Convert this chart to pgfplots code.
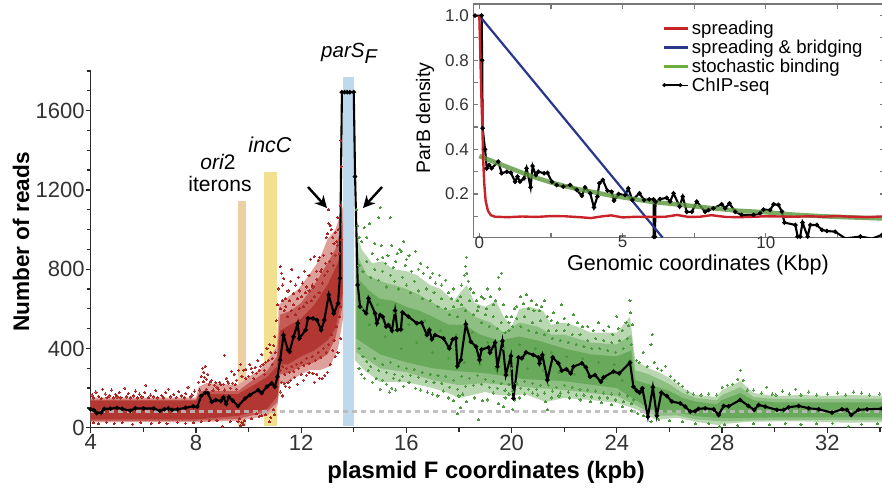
\documentclass[border=0pt]{standalone}
\usepackage{pgfplots}
\pgfplotsset{compat=1.18}
\usetikzlibrary{arrows.meta}
\usepackage{fontspec}
\setmainfont{Liberation Sans}
\definecolor{redA}{HTML}{DDA09A}
\definecolor{redB}{HTML}{C45D57}
\definecolor{redC}{HTML}{B23632}
\definecolor{redP}{HTML}{AC2724}
\definecolor{greA}{HTML}{B9D8B1}
\definecolor{greB}{HTML}{8DBF82}
\definecolor{greC}{HTML}{69A95B}
\definecolor{greP}{HTML}{4C9A3E}
\definecolor{axc}{HTML}{2A2A2A}
\definecolor{insc}{HTML}{777777}
\newcommand{\fs}[1]{\fontsize{#1}{#1}\selectfont}
\begin{document}
\begin{tikzpicture}[x=1pt,y=1pt]
\clip (0,0) rectangle (882,489);
\begin{axis}[
  at={(90.7pt,61.3pt)},anchor=south west,
  scale only axis,width=791.3pt,height=356.7pt,
  xmin=4,xmax=34.08,ymin=0,ymax=1800,
  axis x line*=bottom,axis y line*=left,
  axis line style={-,line width=1.5pt,color=axc},
  xtick={4,8,12,16,20,24,28,32},minor xtick={6,10,14,18,22,26,30,34},
  ytick={0,400,800,1200,1600},minor ytick={100,200,300,500,600,700,900,1000,1100,1300,1400,1500,1700,1800},
  tick style={line width=1.3pt,color=axc},
  major tick length=5pt,minor tick length=4pt,
  tick align=outside,
  /pgf/number format/assume math mode=true,
  /pgf/number format/1000 sep={},
  tick label style={font=\fs{22},color=black!80},
  yticklabel style={xshift=2.5pt},
  xticklabel style={yshift=1.5pt},
  clip=true]
% highlighted regions
\addplot[draw=none,fill={rgb,255:red,237;green,207;blue,163}] coordinates {(9.6,8)(9.6,1145)(9.89,1145)(9.89,8)} --cycle;
\addplot[draw=none,fill={rgb,255:red,243;green,224;blue,142}] coordinates {(10.6,8)(10.6,1288)(11.08,1288)(11.08,8)} --cycle;
\addplot[draw=none,fill={rgb,255:red,190;green,216;blue,236}] coordinates {(13.6,8)(13.6,1771)(14.0,1771)(14.0,8)} --cycle;
% cloud envelopes
\addplot[draw=none,fill=redA] coordinates {(4,152)(8,152)(8.1,205)(8.4,225)(9.6,215)(10,255)(10.5,300)(11.08,410)(11.15,620)(11.5,660)(11.9,700)(12.3,770)(12.7,850)(13,950)(13.3,1000)(13.6,1120)(13.6,560)(13.4,400)(13.1,310)(12.7,290)(12.3,290)(12,270)(11.6,240)(11.2,220)(11.1,110)(10.7,60)(9.6,35)(8,28)(4,28)} --cycle;
\addplot[draw=none,fill=redB] coordinates {(4,142)(8,142)(8.15,185)(9.6,185)(10,225)(10.7,285)(11.08,360)(11.2,570)(11.6,590)(12,630)(12.5,720)(13,830)(13.3,900)(13.58,1040)(13.58,620)(13.3,450)(13,370)(12.5,330)(12,310)(11.5,275)(11.2,270)(11.1,130)(10.7,80)(9.6,45)(8,35)(4,35)} --cycle;
\addplot[draw=none,fill=redC] coordinates {(4,136)(8,136)(8.15,170)(9.6,170)(10,200)(10.7,255)(11.08,310)(11.2,490)(12,550)(12.5,620)(13,720)(13.5,860)(13.58,960)(13.58,680)(13.3,500)(13,440)(12.5,390)(12,360)(11.5,320)(11.2,320)(11.1,160)(10.7,95)(9.6,60)(8,42)(4,42)} --cycle;
\addplot[draw=none,fill=greA] coordinates {(14.05,1000)(14.3,900)(14.7,830)(15.1,840)(15.5,800)(16,790)(16.4,770)(16.9,720)(17.3,700)(17.8,640)(18.1,690)(18.3,720)(18.6,630)(19,610)(19.4,640)(19.7,560)(20,510)(20.3,600)(20.7,610)(21.2,590)(21.5,520)(22,530)(22.5,510)(23,480)(23.5,480)(24,480)(24.5,560)(24.7,340)(25.2,300)(25.6,280)(26,250)(26.5,200)(27,165)(27.8,155)(28,190)(28.7,235)(29.2,175)(30,160)(31,165)(32,160)(33,165)(34.08,160)(34.08,28)(32.8,25)(31,32)(30,32)(29,30)(28,18)(27.9,12)(27,30)(26.3,50)(25.5,40)(24.7,95)(24,125)(23,140)(22,150)(21.3,130)(20.5,170)(20,160)(19.5,165)(19,180)(18,150)(17.5,180)(17,200)(16,230)(15,230)(14.4,290)(14.05,340)} --cycle;
\addplot[draw=none,fill=greB] coordinates {(14.1,880)(14.5,770)(15,740)(15.5,720)(16,700)(16.5,670)(17,630)(17.5,590)(18.2,610)(18.6,560)(19.2,530)(19.7,480)(20.3,530)(21,510)(21.5,470)(22,470)(23,430)(24,420)(24.55,470)(24.7,290)(25.2,270)(26,220)(26.5,175)(27,150)(27.8,138)(28,165)(28.7,205)(29.2,155)(30,145)(34.08,145)(34.08,38)(30,40)(28,32)(27,42)(26.3,62)(25.5,60)(24.7,115)(24,160)(22,190)(20.5,205)(19,225)(18,215)(17,240)(16,280)(15,300)(14.1,380)} --cycle;
\addplot[draw=none,fill=greC] coordinates {(14.1,760)(14.6,690)(15,650)(15.5,640)(16,610)(16.5,590)(17,560)(17.6,520)(18.2,520)(18.8,470)(19.5,440)(20.3,460)(21,440)(22,400)(23,370)(24,360)(24.55,390)(24.7,240)(25.2,220)(26,185)(26.5,150)(27,132)(27.8,118)(28,140)(28.7,175)(29.2,138)(30,128)(34.08,128)(34.08,52)(30,52)(28,48)(27,58)(26.3,78)(25.5,75)(24.7,140)(24,200)(22,235)(20.5,245)(19,275)(18,285)(17,300)(16,330)(15,370)(14.1,450)} --cycle;
% individual read dots
\addplot[only marks,color=redP,mark=*,mark size=1.05pt,mark options={fill=redP,draw=redP,line width=0pt}] coordinates {
(4.05,165)(4.1,150)(4.2,180)(4.3,158)(4.4,148)(4.45,195)(4.55,170)(4.62,152)(4.7,160)(4.8,190)(4.85,150)(4.95,168)(5,155)(5.08,178)(5.15,150)(5.3,200)(5.35,155)(5.42,172)(5.5,150)(5.62,160)(5.7,185)(5.78,150)(5.85,170)(5.95,155)(6.05,178)(6.1,215)(6.2,152)(6.28,165)(6.4,155)(6.48,186)(6.55,150)(6.7,162)(6.78,150)(6.85,178)(6.95,195)(7.05,155)(7.15,168)(7.25,152)(7.35,182)(7.45,160)(7.55,150)(7.62,172)(7.7,205)(7.78,155)(7.85,165)(7.95,185)
(4.1,25)(4.3,20)(4.6,28)(4.9,22)(5.2,26)(5.6,18)(5.9,27)(6.3,22)(6.6,25)(6.9,19)(7.3,27)(7.6,22)(7.9,24)(8.2,30)(8.5,35)(8.8,38)(9,8)(9.3,30)
(8.1,230)(8.2,260)(8.25,300)(8.3,280)(8.35,310)(8.4,245)(8.45,270)(8.5,220)(8.6,240)(8.7,215)(8.8,205)(8.9,230)(9.08,366)(9.05,220)(9.15,250)(9.25,225)(9.35,285)(9.45,270)(9.55,240)(9.62,290)(8.28,232)(8.33,255)(8.55,232)(8.75,228)(8.95,218)(9.2,235)(9.4,225)(9.5,218)(8.15,190)(8.4,195)(8.65,190)(8.85,195)(9.1,190)(9.3,200)(9.55,195)
(9.7,320)(9.75,260)(9.8,290)(9.9,295)(10,260)(10.05,320)(10.15,280)(10.25,305)(10.35,340)(10.4,290)(10.5,370)(10.55,320)(10.65,330)(10.7,400)(10.8,420)(10.9,350)(11,460)(11.05,540)(10.1,300)(10.3,275)(10.45,310)(10.6,290)(10.75,340)(10.85,380)(10.95,415)(9.6,30)(9.7,10)(9.75,25)(9.8,15)(9.65,45)(10.3,70)(10.8,30)(10.85,50)(11,65)(10.1,45)(10.5,60)(9.85,35)(10.95,90)(9.9,250)(10.2,250)(10.6,270)(10.9,320)(11.02,380)(10.4,55)(10.65,65)
(11.1,620)(11.15,700)(11.2,812)(11.25,780)(11.3,720)(11.33,753)(11.4,650)(11.5,690)(11.6,740)(11.65,800)(11.72,675)(11.8,720)(11.9,760)(11.95,690)(12.05,730)(12.12,790)(12.2,710)(12.3,770)(12.35,850)(12.42,720)(12.5,865)(12.58,790)(12.65,845)(12.7,860)(12.78,800)(12.85,870)(12.92,830)(12.95,960)(13,980)(13.03,1099)(13.05,1030)(13.1,1020)(13.15,1000)(13.2,960)(13.25,930)(13.3,985)(13.35,940)(13.42,1000)(13.5,1450)(13.52,1320)(13.48,1120)(13.4,1060)
(11.2,180)(11.25,230)(11.3,160)(11.35,225)(11.4,210)(11.5,230)(11.55,205)(11.6,240)(11.75,255)(11.85,220)(12,270)(12.1,240)(12.2,265)(12.3,280)(12.45,275)(12.5,230)(12.6,270)(12.7,250)(12.8,250)(12.9,265)(13,280)(13.1,320)(13.2,390)(13.3,360)(13.4,380)(13.5,450)
(11.22,600)(11.28,640)(11.35,590)(11.42,610)(11.48,560)(11.55,640)(11.62,590)(11.7,620)(11.78,570)(11.85,650)(11.92,600)(12,660)(12.08,610)(12.15,680)(12.22,630)(12.3,690)(12.38,640)(12.45,710)(12.52,660)(12.6,750)(12.68,680)(12.75,790)(12.82,730)(12.9,770)(13,790)(13.08,840)(13.15,880)(13.22,820)(13.3,870)(13.38,920)(13.45,880)(13.52,950)
(11.22,290)(11.3,310)(11.38,270)(11.45,300)(11.55,280)(11.65,310)(11.72,285)(11.82,320)(11.9,300)(12,330)(12.1,315)(12.2,350)(12.3,325)(12.42,360)(12.55,340)(12.65,380)(12.75,355)(12.85,400)(12.95,380)(13.05,420)(13.15,470)(13.25,440)(13.35,510)(13.45,560)(13.5,610)
};
\addplot[only marks,color=greP,mark=*,mark size=1.05pt,mark options={fill=greP,draw=greP,line width=0pt}] coordinates {
(14.1,1100)(14.15,1020)(14.2,960)(14.3,940)(14.4,1010)(14.5,960)(14.6,1030)(14.7,880)(14.8,930)(14.9,850)(15,1110)(15.05,920)(14.95,1060)(15.1,860)(15.2,830)(15.3,870)(15.38,1060)(15.45,920)(15.5,810)(15.6,840)(15.65,880)(15.75,900)(15.8,890)(15.9,940)(15.95,820)(16,850)(16.1,870)(16.2,790)(16.35,890)(16.45,800)(16.55,830)(16.65,780)(16.8,810)(16.9,760)(17,780)(17.1,730)(17.25,770)(17.35,720)(17.5,745)(17.6,680)(17.7,650)(17.8,700)(17.95,640)(18.05,660)(18.1,720)(18.2,770)(18.25,815)(18.28,860)(18.3,780)(18.35,740)(18.45,700)(18.55,680)(18.65,640)(18.75,610)(18.85,660)(18.95,650)(19.05,600)(19.1,700)(19.2,660)(19.3,620)(19.4,640)(19.5,760)(19.55,700)(19.62,780)(19.68,620)(19.8,560)(19.9,530)(20,560)(20.1,600)(20.2,610)(20.35,660)(20.45,625)(20.55,670)(20.65,600)(20.75,640)(20.85,590)(20.95,620)(21.05,590)(21.15,610)(21.25,640)(21.35,560)(21.5,540)(21.6,580)(21.75,530)(21.9,620)(22,550)(22.15,520)(22.35,570)(22.5,530)(22.7,510)(22.9,510)(23.1,490)(23.3,530)(23.5,490)(23.7,510)(23.85,470)(24,560)(24.05,500)(24.2,490)(24.35,530)(24.5,640)(24.52,580)(24.45,515)(24.6,520)(24.75,340)(24.85,330)(25,380)(25.15,310)(25.3,420)(25.35,470)(25.42,330)(25.55,300)(25.7,290)(25.85,310)(26.05,260)(26.2,240)(26.35,225)(26.5,210)(26.7,180)(26.9,170)(27.2,165)(27.5,170)(27.8,165)(28,205)(28.2,215)(28.4,220)(28.6,245)(28.7,290)(28.8,240)(28.95,190)(29.2,190)(29.5,175)(29.7,205)(29.9,170)(30.05,165)(30.3,185)(30.55,170)(30.8,195)(31,165)(31.3,180)(31.6,165)(32,170)(32.4,175)(32.7,165)(33,180)(33.3,175)(33.6,165)(34,170)
(14.2,300)(14.3,270)(14.4,250)(14.55,290)(14.7,230)(14.85,250)(15,195)(15.1,240)(15.25,220)(15.35,180)(15.45,200)(15.5,250)(15.6,190)(15.75,240)(15.9,210)(16.1,230)(16.35,200)(16.55,190)(16.8,180)(17,170)(17.2,160)(17.4,185)(17.6,150)(17.8,135)(17.95,70)(18,160)(18.05,100)(18.15,170)(18.3,130)(18.6,150)(18.75,40)(18.9,135)(19.1,140)(19.3,175)(19.5,120)(19.7,105)(19.75,150)(19.9,170)(20.05,90)(20.1,140)(20.3,150)(20.5,170)(20.8,175)(21,165)(21.3,130)(21.35,90)(21.5,150)(21.8,160)(22.2,150)(22.6,140)(23,130)(23.4,125)(23.8,115)(24.2,105)(24.55,85)(24.8,70)(25,60)(25.3,30)(25.6,40)(26,35)(26.5,30)(27,20)(27.5,22)(27.9,5)(28.1,15)(28.6,12)(29.2,20)(29.8,15)(30.4,22)(31,18)(31.6,20)(32.2,22)(32.8,6)(33.3,18)(33.9,20)
(14.2,820)(14.35,790)(14.5,840)(14.65,760)(14.8,800)(14.95,745)(15.1,790)(15.25,710)(15.4,770)(15.55,740)(15.7,700)(15.85,760)(16,720)(16.15,680)(16.3,740)(16.45,690)(16.6,650)(16.75,700)(16.9,640)(17.05,680)(17.2,610)(17.35,650)(17.5,600)(17.65,570)(17.8,610)(17.95,560)(18.1,620)(18.25,590)(18.4,640)(18.55,570)(18.7,590)(18.85,530)(19,570)(19.15,510)(19.3,560)(19.45,500)(19.6,530)(19.75,480)(19.9,490)(20.05,510)(20.2,550)(20.35,510)(20.5,560)(20.65,490)(20.8,530)(20.95,480)(21.1,540)(21.25,470)(21.4,490)(21.55,450)(21.7,490)(21.85,440)(22,490)(22.15,430)(22.3,470)(22.45,420)(22.6,470)(22.75,410)(22.9,440)(23.05,400)(23.2,450)(23.35,400)(23.5,440)(23.65,390)(23.8,430)(23.95,380)(24.1,440)(24.25,400)(24.4,450)(24.55,420)
(14.2,400)(14.35,360)(14.5,335)(14.65,310)(14.8,350)(14.95,290)(15.1,320)(15.25,280)(15.4,330)(15.55,270)(15.7,310)(15.85,260)(16,300)(16.15,265)(16.3,295)(16.45,255)(16.6,280)(16.75,235)(16.9,270)(17.05,230)(17.2,265)(17.35,225)(17.5,260)(17.65,205)(17.8,240)(17.95,195)(18.1,260)(18.25,210)(18.4,250)(18.55,215)(18.7,265)(18.85,220)(19,245)(19.15,205)(19.3,235)(19.45,200)(19.6,225)(19.75,190)(19.9,220)(20.05,185)(20.2,225)(20.35,200)(20.5,235)(20.65,195)(20.8,225)(20.95,195)(21.1,215)(21.25,175)(21.4,215)(21.55,185)(21.7,205)(21.85,175)(22,215)(22.15,180)(22.3,205)(22.45,165)(22.6,195)(22.75,165)(22.9,190)(23.05,155)(23.2,185)(23.35,150)(23.5,175)(23.65,150)(23.8,170)(23.95,140)(24.1,170)(24.25,130)(24.4,160)(24.55,120)(24.65,140)
(14.3,600)(14.6,520)(14.9,620)(15.2,460)(15.5,580)(15.8,400)(16.1,520)(16.4,430)(16.7,540)(17,380)(17.3,490)(17.6,350)(17.9,470)(18.2,330)(18.5,480)(18.8,320)(19.1,430)(19.4,300)(19.7,400)(20,300)(20.3,420)(20.6,300)(20.9,400)(21.2,290)(21.5,380)(21.8,280)(22.1,360)(22.4,270)(22.7,350)(23,260)(23.3,330)(23.6,250)(23.9,320)(24.2,240)(24.5,340)
};
% mean line
\addplot[line width=3pt,dash pattern=on 5.5pt off 3.5pt,color=black!27,opacity=.9] coordinates {(4,84)(34.08,84)};
\addplot[black,line width=2.1pt,mark=*,mark size=1pt,mark options={fill=black}] coordinates {
(4,93)(4.12,88)(4.23,73)(4.4,76)(4.52,95)(4.75,96)(5,100)(5.2,95)(5.5,86)(5.7,98)(6,97)(6.4,97)(6.63,85)(6.8,93)(6.95,97)(7.1,90)(7.3,93)(7.6,100)(7.9,108)(8.05,105)(8.2,160)(8.35,177)(8.45,175)(8.6,130)(8.75,140)(8.95,135)(9.05,153)(9.15,120)(9.25,155)(9.4,137)(9.6,109)(9.87,148)(10.05,165)(10.37,190)(10.5,175)(10.7,207)(10.88,224)(11,207)(11.1,257)(11.2,341)(11.33,467)(11.5,392)(11.56,383)(11.71,459)(11.87,526)(11.93,450)(12.17,493)(12.26,552)(12.45,552)(12.6,543)(12.76,493)(12.88,543)(13.05,670)(13.24,577)(13.4,627)(13.47,754)(13.55,1693)(13.65,1693)(13.75,1693)(13.85,1693)(14,1693)(14.05,1267)(14.15,720)(14.24,611)(14.47,577)(14.56,653)(14.81,577)(14.88,527)(15,569)(15.1,560)(15.23,510)(15.32,518)(15.45,490)(15.57,591)(15.66,493)(15.79,496)(15.85,582)(16.08,560)(16.4,527)(16.58,530)(16.78,468)(16.87,493)(16.97,446)(17.09,468)(17.41,451)(17.63,400)(17.76,446)(17.88,451)(17.94,311)(18.07,342)(18.26,522)(18.45,434)(18.65,409)(18.78,342)(18.86,395)(19.12,405)(19.18,379)(19.37,429)(19.46,308)(19.65,437)(19.78,266)(19.97,362)(20.07,148)(20.26,355)(20.39,350)(20.55,380)(20.83,367)(21.02,355)(21.06,325)(21.17,367)(21.36,241)(21.56,355)(21.78,325)(21.91,288)(22.08,295)(22.25,274)(22.35,308)(22.67,325)(22.82,305)(22.98,257)(23.17,266)(23.39,232)(23.49,254)(23.87,283)(24.09,274)(24.5,328)(24.63,207)(24.76,187)(24.86,177)(24.97,199)(25.18,55)(25.37,204)(25.52,60)(25.69,177)(25.9,160)(26.09,132)(26.41,123)(26.6,106)(26.79,81)(26.98,84)(27.1,95)(27.36,98)(27.68,93)(27.87,64)(28.06,110)(28.25,108)(28.69,140)(29,110)(29.22,90)(29.39,115)(29.64,106)(30.09,90)(30.34,90)(30.53,103)(30.91,110)(31.29,98)(31.67,93)(32.18,76)(32.56,93)(32.75,90)(32.91,64)(33.19,90)(33.51,93)(34.08,96)};
\end{axis}
% annotations
\node[font=\fs{20.5}\itshape,anchor=base] at (349,431) {parS\raisebox{-6pt}{\fs{20}F}};
\node[font=\fs{21},anchor=base] at (218,319) {\itshape ori\upshape 2};
\node[font=\fs{21},anchor=base] at (220,297) {iterons};
\node[font=\fs{21.5}\itshape,anchor=base] at (270,336) {incC};
\draw[-{Stealth[length=12pt,width=12pt]},line width=2.4pt,black] (308,302) -- (327,281);
\draw[-{Stealth[length=12pt,width=12pt]},line width=2.4pt,black] (382,302) -- (363,281);
\node[font=\fs{22.6}\bfseries,rotate=90] at (21,247) {Number of reads};
\node[font=\fs{23.8}\bfseries] at (486,17) {plasmid F coordinates (kpb)};
% inset
\begin{axis}[
  at={(473.3pt,251.3pt)},anchor=south west,
  scale only axis,width=412pt,height=233.7pt,
  xmin=-0.21,xmax=14.17,ymin=0.004,ymax=1.052,
  axis background/.style={fill=white},
  axis line style={line width=1.5pt,color=insc},
  xtick={0,5,10},minor xtick={2.5,7.5,12.5},
  ytick={0.2,0.4,0.6,0.8,1.0},minor ytick={0.1,0.3,0.5,0.7,0.9},
  tick style={line width=1.2pt,color=insc},
  tick align=inside,major tick length=5pt,minor tick length=5pt,
  /pgf/number format/assume math mode=true,
  /pgf/number format/fixed,/pgf/number format/precision=1,/pgf/number format/fixed zerofill,
  yticklabel style={font=\fs{17},color=black!80,xshift=-1pt},
  xticklabel={\pgfmathprintnumber[fixed,precision=0,assume math mode=true]{\tick}},
  xticklabel style={font=\fs{17},color=black!80,yshift=5pt},
  legend cell align=left,
  legend style={at={(axis cs:6.38,0.987)},anchor=north west,draw=none,fill=none,font=\fs{18.6},row sep=0pt,inner sep=0pt},
  legend image code/.code={\draw[#1] (0pt,0pt) -- (16pt,0pt);\path (0pt,0pt) -- (24pt,0pt);},
  clip=true]
\addlegendimage{line width=2.8pt,color={rgb,255:red,200;green,35;blue,40}}\addlegendentry{spreading}
\addlegendimage{line width=2.8pt,color={rgb,255:red,40;green,55;blue,140}}\addlegendentry{spreading \& bridging}
\addlegendimage{line width=3.2pt,color={rgb,255:red,110;green,170;blue,60}}\addlegendentry{stochastic binding}
\addlegendimage{legend image code/.code={\draw[black,line width=1.5pt] (0pt,0pt) -- (16pt,0pt);\fill[black] (0pt,0pt) circle (1.8pt);\fill[black] (16pt,0pt) circle (1.8pt);\path (0pt,0pt) -- (24pt,0pt);}}\addlegendentry{ChIP-seq}
\addplot[forget plot,black,line width=2.1pt,mark=*,mark size=1pt,mark options={fill=black}] coordinates {
(-0.15,1)(0.08,1)(0.1,.8)(0.116,.495)(0.2,.4)(.26,.315)(.34,.33)(.43,.315)(.66,.345)(.78,.293)(.96,.30)(1.1,.295)(1.25,.255)(1.33,.278)(1.42,.255)(1.56,.27)(1.65,.315)(1.79,.23)(1.86,.325)(1.97,.285)(2.06,.30)(2.26,.293)(2.38,.295)(2.53,.255)(2.7,.24)(2.93,.233)(3.17,.24)(3.4,.218)(3.58,.192)(3.69,.23)(3.87,.203)(4,.14)(4.12,.188)(4.19,.248)(4.31,.263)(4.47,.215)(4.62,.21)(4.7,.17)(4.86,.2)(5.09,.195)(5.2,.225)(5.34,.173)(5.59,.203)(5.75,.173)(5.93,.176)(6.08,.176)(6.09,.008)(6.13,.008)(6.15,.165)(6.31,.177)(6.54,.183)(6.66,.166)(6.78,.203)(6.99,.144)(7.1,.188)(7.24,.12)(7.42,.12)(7.59,.166)(7.88,.12)(8,.128)(8.17,.136)(8.46,.154)(8.58,.136)(8.73,.158)(8.93,.12)(9.16,.106)(9.57,.106)(9.8,.114)(9.92,.13)(10.15,.128)(10.27,.154)(10.44,.151)(10.56,.121)(10.65,.072)(11.03,.061)(11.11,.009)(11.2,.009)(11.28,.072)(11.46,.009)(11.55,.061)(11.78,.061)(11.96,.039)(12.13,.034)(12.42,.031)(12.77,.001)(13.3,.009)(13.7,0)(14.05,.016)};
\addplot[forget plot,line width=2.2pt,color={rgb,255:red,40;green,55;blue,140}] coordinates {(0,1)(6.4,.004)};
\addplot[forget plot,line width=4.5pt,opacity=.8,color={rgb,255:red,90;green,150;blue,60}] coordinates {(0,.37)(.5,.345)(1,.32)(1.5,.295)(2,.272)(2.5,.252)(3,.235)(3.5,.22)(4,.208)(4.5,.195)(5,.185)(5.5,.175)(6,.165)(7,.152)(8,.138)(9,.125)(10,.118)(11,.107)(12,.1)(13,.095)(14.17,.09)};
\addplot[forget plot,line width=2.4pt,color={rgb,255:red,200;green,35;blue,40}] coordinates {(0,1)(.04,.8)(.08,.6)(.11,.49)(.13,.37)(.17,.25)(.22,.17)(.3,.125)(.4,.105)(.55,.098)(1,.096)(1.5,.099)(2,.097)(2.5,.101)(3,.1)(3.5,.096)(3.9,.092)(4.3,.1)(4.6,.104)(5,.095)(5.5,.098)(6,.097)(6.5,.098)(6.9,.106)(7.3,.097)(7.7,.098)(8.1,.105)(8.6,.097)(9.1,.096)(9.6,.098)(10,.1)(10.5,.099)(11,.098)(11.5,.1)(12,.098)(12.5,.101)(13,.098)(13.5,.096)(14.17,.1)};
\end{axis}
\node[font=\fs{21.5}] at (698,224) {Genomic coordinates (Kbp)};
\node[font=\fs{19.5},rotate=90] at (425,371) {ParB density};
\end{tikzpicture}
\end{document}
